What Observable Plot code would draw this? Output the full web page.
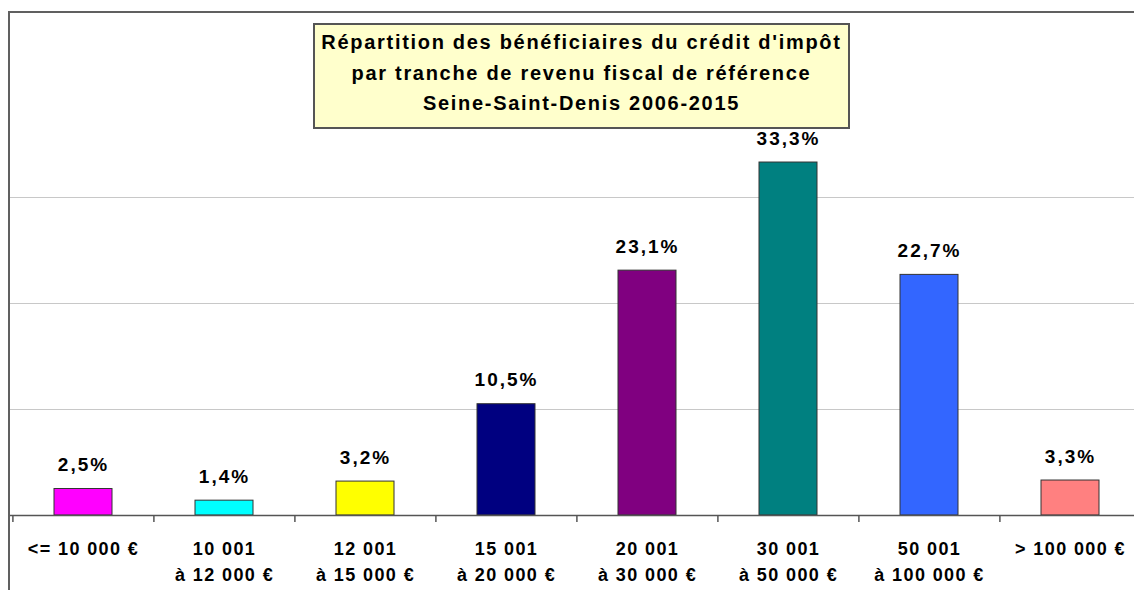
<!DOCTYPE html>
<html><head><meta charset="utf-8">
<script src="https://cdn.jsdelivr.net/npm/d3@7"></script>
<script src="https://cdn.jsdelivr.net/npm/@observablehq/plot@0.6"></script>
<style>
body{margin:0;background:#fff;font-family:"Liberation Sans",Arial,sans-serif;}
#wrap{position:relative;width:1134px;height:590px;overflow:hidden;}
#frame{position:absolute;left:8px;top:11px;width:1200px;height:700px;border-top:2px solid #606060;border-left:2px solid #606060;}
#chart{position:absolute;left:0;top:0;}
#title{position:absolute;left:313px;top:23px;width:537px;height:106px;background:#ffffcc;border:2px solid #555;box-sizing:border-box;text-align:center;font-weight:bold;font-size:20px;line-height:30.5px;padding-top:2px;letter-spacing:1.7px;color:#000;}
.vlab text{letter-spacing:2px;}
.clab text{letter-spacing:1.4px;}
</style>
</head><body>
<div id="wrap"><div id="frame"></div><div id="chart"></div>
<div id="title">Répartition des bénéficiaires du crédit d'impôt<br>par tranche de revenu fiscal de référence<br>Seine-Saint-Denis 2006-2015</div>
</div>
<script>
const categories = ["<= 10 000 €", "10 001\nà 12 000 €", "12 001\nà 15 000 €", "15 001\nà 20 000 €", "20 001\nà 30 000 €", "30 001\nà 50 000 €", "50 001\nà 100 000 €", "> 100 000 €"];
const values = [2.5, 1.4, 3.2, 10.5, 23.1, 33.3, 22.7, 3.3];
const colors = ["#ff00ff", "#00ffff", "#ffff00", "#000080", "#800080", "#008080", "#3366ff", "#ff8080"];
const gridValues = [10, 20, 30];

const data = categories.map((c, i) => ({cat: c, value: values[i], label: values[i].toFixed(1).replace(".", ",") + "%"}));
const x0 = 12, x1 = 1141.6;
const step = (x1 - x0) / categories.length;

const chart = Plot.plot({
  width: 1134, height: 590,
  marginTop: 91, marginBottom: 75, marginLeft: 10, marginRight: 0,
  style: {fontFamily: "'Liberation Sans', Arial, sans-serif", background: "transparent", overflow: "visible"},
  x: {domain: categories, range: [x0, x1], paddingInner: 0.59, paddingOuter: 0.295, axis: null},
  y: {domain: [0, 40], axis: null},
  color: {domain: categories, range: colors},
  marks: [
    Plot.ruleY(gridValues, {stroke: "#c8c8c8", strokeWidth: 1}),
    Plot.barY(data, {x: "cat", y: "value", fill: "cat", stroke: "#333", strokeWidth: 1}),
    Plot.ruleY([0], {stroke: "#555", strokeWidth: 1.5}),
    Plot.ruleX(data, {x: "cat", dx: -step / 2, y1: 0, y2: -0.66, stroke: "#555", strokeWidth: 1.5}),
    Plot.text(data, {x: "cat", y: "value", text: "label", dy: -18, lineAnchor: "bottom", fontSize: 19, fontWeight: "bold", fill: "#000", className: "vlab"}),
    Plot.text(data, {x: "cat", y: 0, text: "cat", lineAnchor: "top", dy: 22, fontSize: 18, fontWeight: "bold", lineHeight: 1.4, fill: "#000", className: "clab"})
  ]
});
document.getElementById("chart").appendChild(chart);
</script>
</body></html>
